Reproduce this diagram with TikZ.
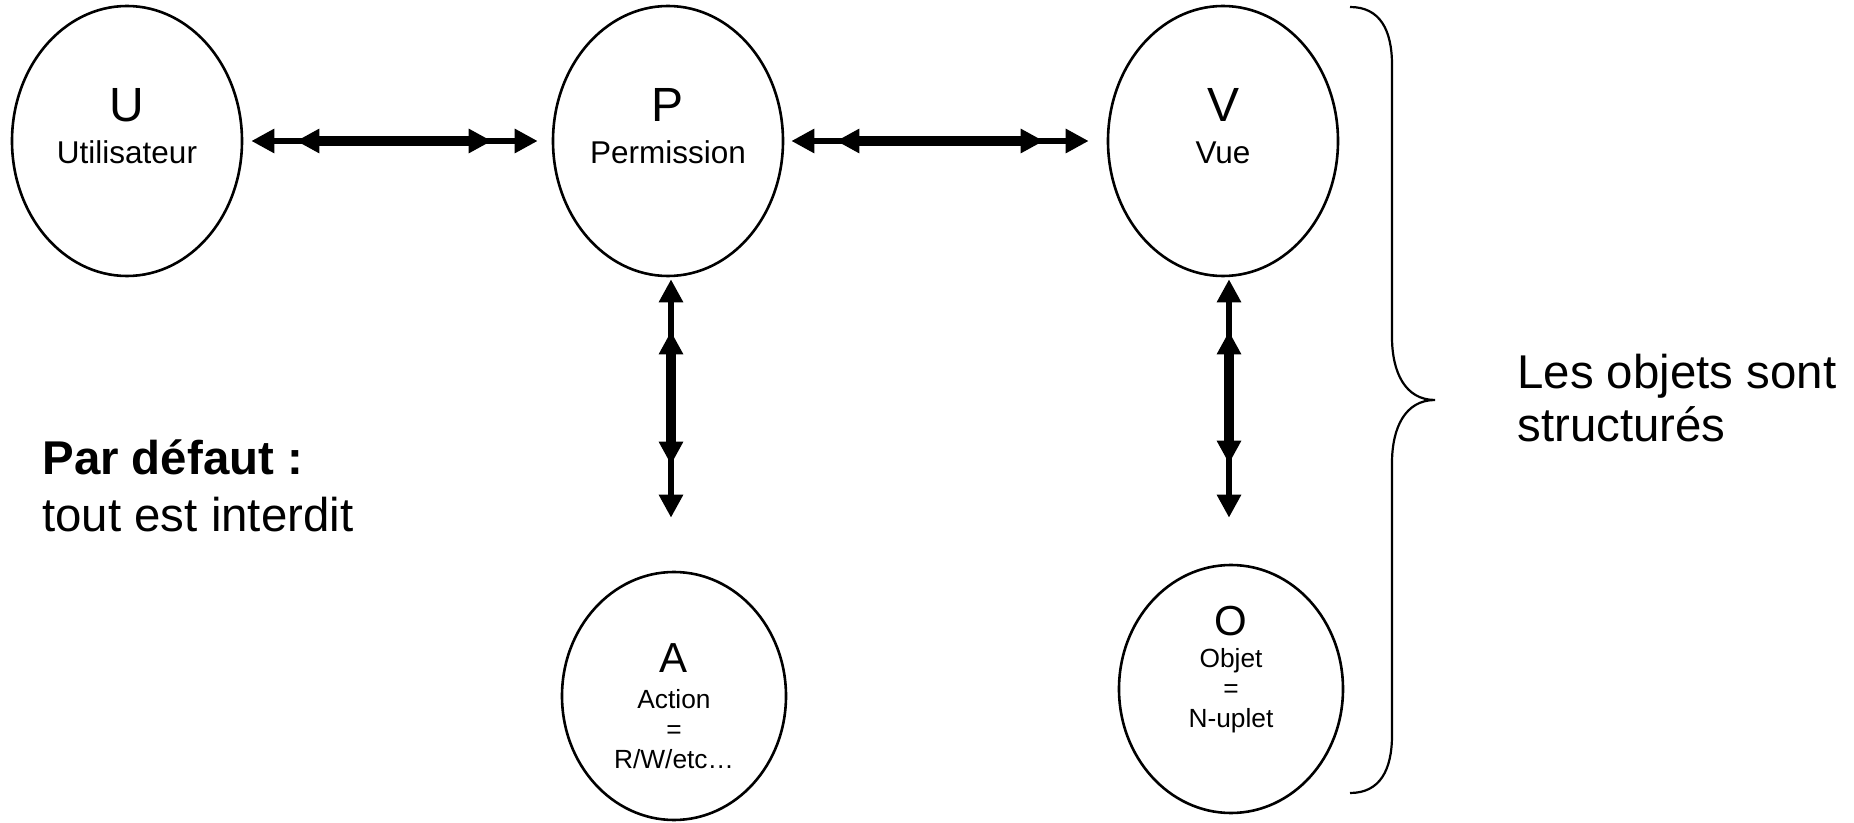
\documentclass[tikz,border=0pt]{standalone}
\usepackage{fontspec}
\setmainfont{Liberation Sans}
\usetikzlibrary{arrows.meta}
\usetikzlibrary{shapes.geometric}

\tikzset{
	bulle/.style={ellipse,draw,line width=1.3pt,inner sep=0pt,minimum width=115pt,minimum height=135pt},
	petitebulle/.style={bulle,minimum width=112pt,minimum height=124pt},
	titre/.style={align=center,inner sep=0pt,font=\fontsize{15.75}{21}\selectfont},
	soustitre/.style={align=center,inner sep=0pt,font=\fontsize{13.15}{15}\selectfont},
	lien/.style={line width=3.4pt,{Triangle[length=11.5pt,width=11.5pt]}-{Triangle[length=11.5pt,width=11.5pt]}},
	lienfort/.style={lien,line width=5pt},
	grand/.style={align=left,inner sep=0pt,anchor=west}
}

\begin{document}
\begin{tikzpicture}[x=0.5pt,y=-0.5pt]
	\useasboundingbox (0,0) rectangle (1854,823);
	% les bulles
	\node[bulle] (U) at (127,141) {};
	\node[bulle] (P) at (668,141) {};
	\node[bulle] (V) at (1223,141) {};
	\node[petitebulle] (A) at (674,696) {};
	\node[petitebulle] (O) at (1231,689) {};
	\node[titre] (Ut) at (127,126) {{\fontsize{24}{24}\selectfont U}\\Utilisateur};
	\node[titre] (Pt) at (668,126) {{\fontsize{24}{24}\selectfont P}\\Permission};
	\node[titre] (Vt) at (1223,126) {{\fontsize{24}{24}\selectfont V}\\Vue};
	\node[soustitre] (At) at (674,706) {{\fontsize{21}{21}\selectfont A}\\[3pt]Action\\=\\R/W/etc…};
	\node[soustitre] (Ot) at (1231,670) {{\fontsize{21}{21}\selectfont O}\\[1pt]Objet\\=\\N-uplet};
	% les liens
	\draw[lien,shorten <=4pt,shorten >=7pt] (U) -- (P);
	\draw[lienfort,shorten <=26.5pt,shorten >=30pt] (U) -- (P);
	\draw[lien,shorten <=3.5pt,shorten >=9pt] (P) -- (V);
	\draw[lienfort,shorten <=26pt,shorten >=31.5pt] (P) -- (V);
	\draw[lien,shorten <=1pt,shorten >=26.5pt] ([xshift=1.5pt]P.south) -- ([xshift=1.5pt]P.south |- A.north);
	\draw[lienfort,shorten <=27pt,shorten >=53pt] ([xshift=1.5pt]P.south) -- ([xshift=1.5pt]P.south |- A.north);
	\draw[lien,shorten <=1pt,shorten >=23pt] ([xshift=3pt]V.south) -- ([xshift=3pt]V.south |- O.north);
	\draw[lienfort,shorten <=27pt,shorten >=50pt] ([xshift=3pt]V.south) -- ([xshift=3pt]V.south |- O.north);
	% textes
	\node[grand,font=\fontsize{23.7}{28.5}\selectfont] (defaut) at (42,486) {\textbf{Par défaut :}\\tout est interdit};
	\node[grand,font=\fontsize{23.7}{26.5}\selectfont] (objets) at (1517,398) {Les objets sont\\structurés};
	% accolade
	\draw[line width=1.1pt] (1350,7) .. controls (1380,7) and (1392,30) .. (1392,65) -- (1392,337)
		.. controls (1392,372) and (1405,400) .. (1435,400)
		.. controls (1405,400) and (1392,428) .. (1392,463) -- (1392,735)
		.. controls (1392,770) and (1380,793) .. (1350,793);
\end{tikzpicture}
\end{document}
